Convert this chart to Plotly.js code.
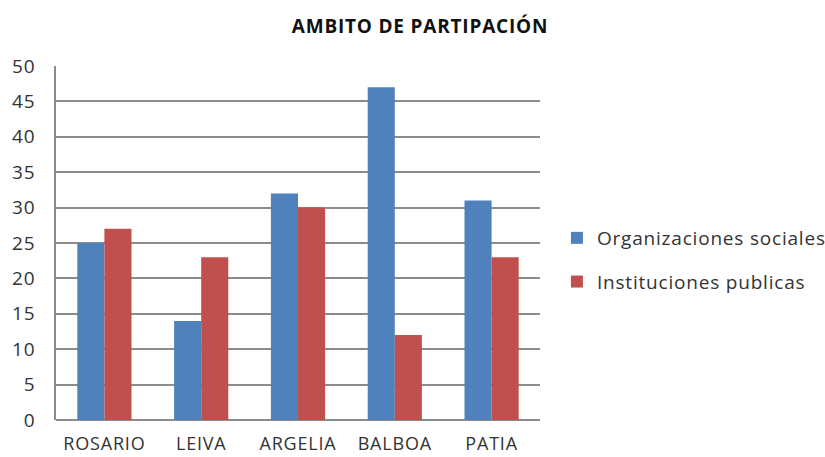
<!DOCTYPE html>
<html>
<head>
<meta charset="utf-8">
<script src="https://cdn.plot.ly/plotly-3.0.1.min.js"></script>
<style>
  html, body { margin: 0; padding: 0; background: #fff; }
  #chart { width: 825px; height: 457px; }
  svg text { letter-spacing: 0.8px; }
</style>
</head>
<body>
<div id="chart"></div>
<script>
const MUNICIPIOS = ["ROSARIO", "LEIVA", "ARGELIA", "BALBOA", "PATIA"];
const ORGANIZACIONES = [25, 14, 32, 47, 31];
const INSTITUCIONES = [27, 23, 30, 12, 23];
const Y_TICKS = [0, 5, 10, 15, 20, 25, 30, 35, 40, 45, 50];

const ORG_COLOR = "#4f81bd";
const INST_COLOR = "#c0504d";
const FONT = "'Open Sans', sans-serif";

const traces = [
    {
        type: "bar", x: MUNICIPIOS, y: ORGANIZACIONES,
        name: "Organizaciones sociales", legendgroup: "a",
        marker: { color: ORG_COLOR },
        hoverinfo: "none",
    },
    {
        type: "bar", x: MUNICIPIOS, y: INSTITUCIONES,
        name: "Instituciones publicas", legendgroup: "b",
        marker: { color: INST_COLOR },
        hoverinfo: "none",
    },
];

const layout = {
    width: 825, height: 457,
    margin: { t: 66, b: 37, l: 56, r: 285, autoexpand: false },
    paper_bgcolor: "#fff",
    plot_bgcolor: "#fff",
    font: { family: FONT, size: 19, color: "#333" },
    title: {
        text: "<b>AMBITO DE PARTIPACIÓN</b>",
        x: 420 / 825, xanchor: "center",
        y: 1 - 26 / 457, yanchor: "middle",
        font: { family: FONT, size: 19, color: "#111" },
    },
    barmode: "group",
    bargap: 0.44,
    bargroupgap: 0,
    xaxis: {
        showgrid: false, zeroline: false,
        showline: false, ticks: "",
        ticklabelstandoff: 11,
        tickfont: { size: 18, color: "#333" },
    },
    yaxis: {
        range: [0, 50],
        tickvals: Y_TICKS,
        gridcolor: "#8c8c8c", gridwidth: 1.5,
        zeroline: true, zerolinecolor: "#8c8c8c", zerolinewidth: 1.5,
        showline: true, linecolor: "#8c8c8c", linewidth: 1.5,
        ticks: "", ticklabelstandoff: 15,
        tickfont: { size: 19, color: "#333" },
    },
    showlegend: true,
    legend: {
        x: 1.035, xanchor: "left",
        y: 0.452, yanchor: "middle",
        tracegroupgap: 16,
        font: { size: 19, color: "#333" },
        itemwidth: 30,
    },
};

Plotly.newPlot("chart", traces, layout, { displayModeBar: false, responsive: false });
</script>
</body>
</html>
